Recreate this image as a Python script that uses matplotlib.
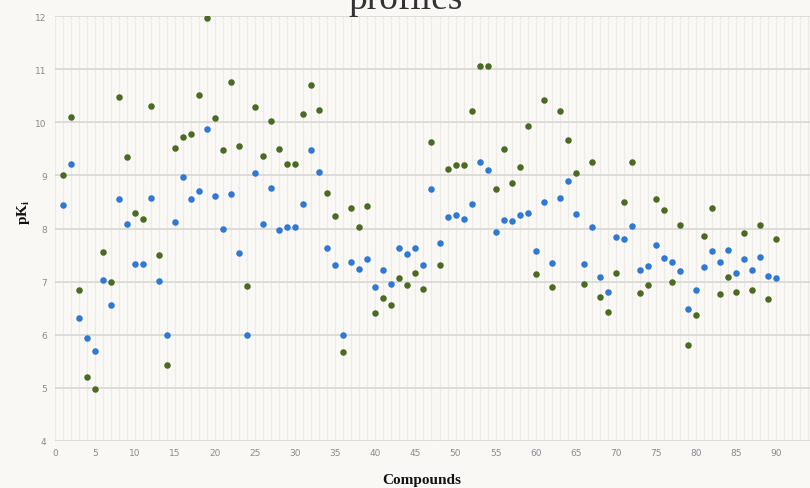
import matplotlib
matplotlib.use("Agg")
import matplotlib.pyplot as plt
import numpy as np

compounds = list(range(1, 91))

blue_pki = [8.45, 9.22, 6.32, 5.93, 5.70, 7.03, 6.56, 8.55, 8.09, 7.33,
            7.33, 8.57, 7.01, 6.00, 8.12, 8.98, 8.55, 8.71, 9.88, 8.61,
            7.99, 8.65, 7.53, 6.00, 9.04, 8.08, 8.77, 7.98, 8.02, 8.02,
            8.46, 9.48, 9.07, 7.63, 7.31, 6.00, 7.37, 7.23, 7.43, 6.90,
            7.22, 6.96, 7.64, 7.52, 7.63, 7.31, 8.75, 7.72, 8.21, 8.26,
            8.17, 8.46, 9.25, 9.10, 7.94, 8.16, 8.14, 8.25, 8.29, 7.58,
            8.50, 7.35, 8.57, 8.89, 8.28, 7.33, 8.02, 7.09, 6.80, 7.84,
            7.80, 8.04, 7.22, 7.30, 7.68, 7.44, 7.37, 7.19, 6.49, 6.84,
            7.28, 7.57, 7.36, 7.60, 7.16, 7.43, 7.22, 7.47, 7.10, 7.06]

green_pki = [9.00, 10.11, 6.85, 5.21, 4.97, 7.55, 6.99, 10.48, 9.35, 8.29,
             8.18, 10.31, 7.50, 5.42, 9.51, 9.72, 9.79, 10.51, 11.97, 10.09,
             9.48, 10.76, 9.56, 6.92, 10.29, 9.37, 10.02, 9.50, 9.22, 9.22,
             10.15, 10.71, 10.23, 8.67, 8.24, 5.68, 8.38, 8.03, 8.43, 6.41,
             6.69, 6.55, 7.07, 6.94, 7.16, 6.86, 9.63, 7.31, 9.13, 9.19,
             9.19, 10.22, 11.06, 11.06, 8.75, 9.49, 8.86, 9.16, 9.94, 7.14,
             10.43, 6.90, 10.21, 9.67, 9.04, 6.96, 9.25, 6.70, 6.43, 7.17,
             8.50, 9.26, 6.79, 6.94, 8.56, 8.34, 6.99, 8.06, 5.80, 6.37,
             7.85, 8.39, 6.77, 7.08, 6.80, 7.91, 6.84, 8.06, 6.67, 7.80]

x_ticks = list(range(0, 100, 5))
y_ticks = list(range(4, 13))

W, H = 810, 489
bg = "#f9f8f4"
fig = plt.figure(figsize=(W / 100, H / 100), dpi=100, facecolor=bg)
left, right, bottom_px, top_px = 55, 816, 441.7, 17.3
ax = fig.add_axes([left / W, (H - bottom_px) / H, (right - left) / W, (bottom_px - top_px) / H])
ax.set_facecolor(bg)

ax.set_xlim(0, 95)
ax.set_ylim(4, 12)
ax.set_xticks(x_ticks)
ax.set_yticks(y_ticks)
ax.set_xticks(np.arange(0, 96, 1), minor=True)
ax.grid(True, which="minor", axis="x", color="#ebeae5", lw=0.8)
ax.grid(True, which="major", axis="x", color="#ebeae5", lw=0.8)
ax.grid(True, which="major", axis="y", color="#d9d9d6", lw=1.3)
ax.set_axisbelow(True)
for s in ax.spines.values():
    s.set_visible(False)
ax.tick_params(which="both", length=0)
ax.tick_params(axis="y", pad=6, labelsize=6.5, labelcolor="#8a8a8a")
ax.tick_params(axis="x", pad=5, labelsize=6.5, labelcolor="#8a8a8a")

ax.scatter(compounds, blue_pki, s=22, color="#2f78d3", zorder=3, linewidths=0)
ax.scatter(compounds, green_pki, s=22, color="#4b6b25", zorder=3, linewidths=0)

fig.text(406 / W, 1 - 9 / H, "profiles", ha="center", va="baseline",
         fontsize=27, family="Liberation Serif", color="#333333")
fig.text(23 / W, 1 - 212 / H, r"pK$_\mathregular{i}$", rotation=90, ha="center", va="center",
         fontsize=11, family="Liberation Serif", fontweight="bold", color="#111111")
fig.text(421.5 / W, 1 - 481 / H, "Compounds", ha="center", va="center",
         fontsize=11, family="Liberation Serif", fontweight="bold", color="#111111")

fig.savefig("out.png", dpi=100, facecolor=bg)
